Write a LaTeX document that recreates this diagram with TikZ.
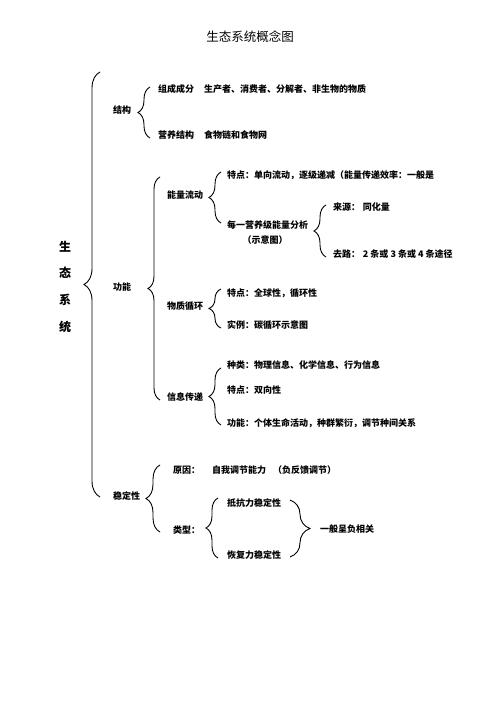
\documentclass[tikz,border=0pt]{standalone}
\usepackage{fontspec}
\setmainfont{Noto Sans CJK SC}
\usetikzlibrary{decorations.pathreplacing}
\begin{document}
\begin{tikzpicture}[x=1pt,y=-1pt,
  lbl/.style={anchor=west,inner sep=0pt,font=\fontsize{9}{10}\selectfont\bfseries},
  big/.style={inner sep=0pt,font=\fontsize{12}{14}\selectfont\bfseries},
  br/.style={decorate,decoration={brace,amplitude=#1},line width=0.9pt},
  br/.default=12
]
\useasboundingbox[fill=white] (0,0) rectangle (500,708);

% title
\node[inner sep=0pt,font=\fontsize{12.5}{14}\selectfont] (title) at (250,37) {生态系统概念图};

% root vertical
\node[big] (r1) at (65,247) {生};
\node[big] (r2) at (65,273) {态};
\node[big] (r3) at (65,300) {系};
\node[big] (r4) at (65,327) {统};

% level 1 labels
\node[lbl] (jg) at (113,110) {结构};
\node[lbl] (gn) at (113,287) {功能};
\node[lbl] (wd) at (113,496) {稳定性};

% structure
\node[lbl] (zc) at (158,89) {组成成分\hspace{1.1em}生产者、消费者、分解者、非生物的物质};
\node[lbl] (yy) at (158,135) {营养结构\hspace{1.1em}食物链和食物网};

% energy flow
\node[lbl] (nl) at (167,195) {能量流动};
\node[lbl] (nl1) at (227,175) {特点：单向流动，逐级递减（能量传递效率：一般是};
\node[lbl] (nl2) at (227,225) {每一营养级能量分析};
\node[lbl,anchor=center] (nl2b) at (265,240) {（示意图）};
\node[lbl] (ly) at (333,207) {来源：\hspace{0.3em}同化量};
\node[lbl] (ql) at (333,254) {去路：\hspace{0.3em}2 条或 3 条或 4 条途径};

% matter cycle
\node[lbl] (wz) at (167,306) {物质循环};
\node[lbl] (wz1) at (227,293) {特点：全球性，循环性};
\node[lbl] (wz2) at (227,325) {实例：碳循环示意图};

% information
\node[lbl] (xx) at (167,397) {信息传递};
\node[lbl] (xx1) at (227,365) {种类：物理信息、化学信息、行为信息};
\node[lbl] (xx2) at (227,390) {特点：双向性};
\node[lbl] (xx3) at (227,423) {功能：个体生命活动，种群繁衍，调节种间关系};

% stability
\node[lbl] (yy1) at (173,470) {原因：};
\node[lbl] (yy2) at (212,470) {自我调节能力};
\node[lbl] (yy3) at (273,470) {（负反馈调节）};
\node[lbl] (lx) at (173,530) {类型：};
\node[lbl] (dk) at (227,503) {抵抗力稳定性};
\node[lbl] (hf) at (227,555) {恢复力稳定性};
\node[lbl] (fx) at (320,529) {一般呈负相关};

% braces
\draw[br=16] (100,497) -- (100,72);
\draw[br] (150,138) -- (150,87);
\draw[br] (160,400) -- (160,177);
\draw[br] (221,223) -- (221,172);
\draw[br] (326,257) -- (326,205);
\draw[br] (221,328) -- (221,289);
\draw[br] (221,425) -- (221,368);
\draw[br=14] (160,532) -- (160,465);
\draw[br] (218,558) -- (218,498);
\draw[br=20] (290,500) -- (290,557);
\end{tikzpicture}
\end{document}
